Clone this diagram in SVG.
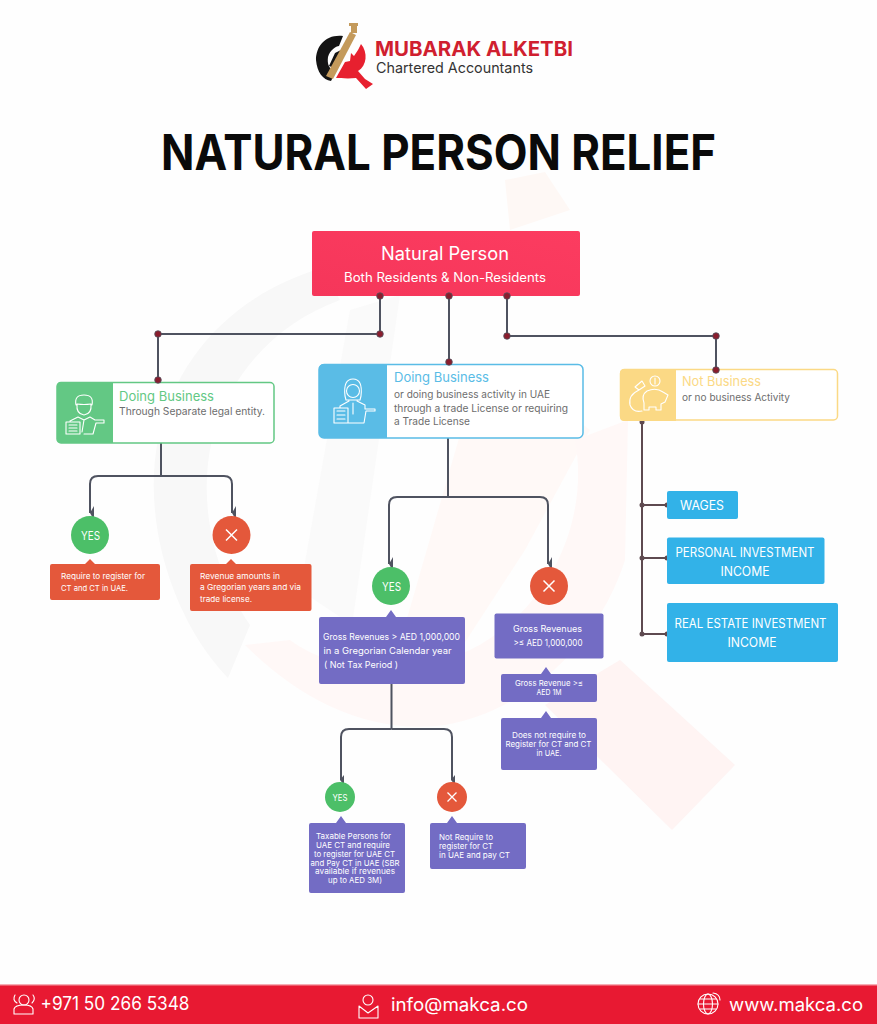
<svg xmlns="http://www.w3.org/2000/svg" width="877" height="1024" viewBox="0 0 877 1024">
<style>
text{font-family:"Inter","Noto Sans","Liberation Sans",sans-serif}
.c{text-anchor:middle}
.ln{fill:none;stroke:#4f5360;stroke-width:2}
.dot{fill:#8a1d2d;stroke:#4f5360;stroke-width:.8}
.gd{fill:#5e4a50}
.ic{fill:none;stroke:#fff;stroke-width:1.100;stroke-linejoin:round;stroke-linecap:round}
.t{fill:#fff;font-size:8px}
.tp{fill:#fff;font-size:9px}
.s{fill:#6d6d6d;font-size:10.500px}
.o{fill:#e4583b}.p{fill:#736cc4}.b{fill:#32b2e8}.g{fill:#4cbf68}
.bt{fill:#fff;font-size:12.500px}
</style>
<defs>
<linearGradient id="rg" x1="0" y1="1" x2="1" y2="0"><stop offset="0" stop-color="#f5365a"/><stop offset="1" stop-color="#fc3c60"/></linearGradient>
<marker id="ah" markerUnits="userSpaceOnUse" markerWidth="16" markerHeight="8" refX="8" refY="7" orient="auto" viewBox="0 0 16 8"><path d="M1 3H15L8 7Z" fill="#4f5360"/></marker>
<marker id="as" markerUnits="userSpaceOnUse" markerWidth="10" markerHeight="6" refX="5" refY="5" orient="auto" viewBox="0 0 10 6"><path d="M0 2H10L5 6Z" fill="#4f5360"/></marker>
</defs>
<rect width="877" height="1024" fill="#fefefe"/>
<g id="watermark">
<path d="M228 678C172 620 142 520 158 440C176 352 240 292 322 268L340 300C280 322 230 370 212 440C198 500 212 570 250 625Z" fill="#f8f8f8"/>
<path d="M300 590L350 310L400 295L352 625Z" fill="#fafafa"/>
<path d="M505 180L545 172L570 210L510 230Z" fill="#fef8f5"/>
<path d="M470 400L505 365L590 430L525 550L460 650L395 660Z" fill="#fff9f7"/>
<path d="M245 645C300 700 370 735 445 725C530 710 600 640 625 560L628 420L575 440C590 520 550 610 470 650C400 680 330 670 290 640Z" fill="#fff8f7"/>
<path d="M620 660L735 765L672 830L545 705Z" fill="#fff4f3"/>
</g>
<g id="logo">
<path d="M343 36C326 34 316 46 316 60C317 72 323 80 331 81L336 71C329 70 327 64 328 57C330 50 336 46 339 46Z" fill="#141414"/>
<path d="M335 53L341 50L334 68L329 66Z" fill="#141414"/>
<path d="M326 76L350 32L356 35L333 79Z" fill="#c49a5b"/>
<path d="M351 26H357V33H351ZM349 23H358V26H349Z" fill="#c49a5b"/>
<path d="M361 44C368 52 367 66 358 71L365 79L373 84L366 89L356 78C348 79 339 78 336 78L345 62L350 61L351 53L354 56L358 50Z" fill="#e7202f"/>
<text x="375" y="56" font-size="20" font-weight="700" fill="#d01f30" textLength="198" lengthAdjust="spacingAndGlyphs">MUBARAK ALKETBI</text>
<text x="376" y="73" font-size="14.500" fill="#333" textLength="157" lengthAdjust="spacingAndGlyphs">Chartered Accountants</text>
</g>
<text id="title" x="161" y="170" font-size="49" font-weight="700" fill="#0a0a0a" textLength="555" lengthAdjust="spacingAndGlyphs">NATURAL PERSON RELIEF</text>
<g id="connectors">
<path class="ln" d="M380 296V334H158V381M449 296V362M507 296V336H716V370"/>
<path class="ln" d="M161 443V476M161 476H98Q90 476 90 484V513" marker-end="url(#ah)"/>
<path class="ln" d="M161 476H224Q232 476 232 484V513" marker-end="url(#ah)"/>
<path class="ln" d="M448 438V497M448 497H397Q389 497 389 505V564" marker-end="url(#ah)"/>
<path class="ln" d="M448 497H540Q548 497 548 505V564" marker-end="url(#ah)"/>
<path class="ln" d="M391.500 684V729M391.500 729H349Q341 729 341 737V780" marker-end="url(#as)"/>
<path class="ln" d="M391.500 729H444Q452 729 452 737V780" marker-end="url(#as)"/>
<path d="M642 422V635M642 505H667M642 558H667M642 634H667" fill="none" stroke="#5e4a50" stroke-width="2"/>
<g class="gd"><circle cx="642" cy="422" r="2.500"/><circle cx="642" cy="505" r="2.500"/><circle cx="667" cy="505" r="2.500"/><circle cx="642" cy="558" r="2.500"/><circle cx="667" cy="558" r="2.500"/><circle cx="642" cy="634" r="2.500"/><circle cx="667" cy="634" r="2.500"/></g>
</g>
<g id="node-root">
<rect x="312" y="231" width="268" height="65" rx="2" fill="url(#rg)"/>
<text class="c" x="445" y="260" font-size="18" fill="#fff" textLength="128" lengthAdjust="spacingAndGlyphs">Natural Person</text>
<text class="c" x="445" y="282" font-size="12.500" fill="#fff" textLength="202" lengthAdjust="spacingAndGlyphs">Both Residents &amp; Non-Residents</text>
</g>
<g id="node-separate">
<rect x="57" y="382.500" width="217" height="60.500" rx="4" fill="#fff" stroke="#63c884" stroke-width="1.500"/>
<path d="M61 382H113V443H61Q57 443 57 439V386Q57 382 61 382Z" fill="#63c884"/>
<g class="ic"><path d="M76 405Q74 395 84 395Q94 395 92 405M77 404Q76 414 84 415Q92 414 91 404Q84 405 77 404M70 421L78 417L84 420L90 417L95 420H104V423H96L93 434H84M84 420L82 432M66 422H80V434H66ZM69 425H77M69 428H77M69 431H77"/></g>
<text x="119" y="401" font-size="13" fill="#63c884" textLength="95" lengthAdjust="spacingAndGlyphs">Doing Business</text>
<text class="s" x="119" y="415" textLength="146" lengthAdjust="spacingAndGlyphs">Through Separate legal entity.</text>
</g>
<g id="node-trade">
<rect x="319" y="364.500" width="264" height="73.500" rx="5" fill="#fff" stroke="#5abce6" stroke-width="1.500"/>
<path d="M324 364H387V438H324Q319 438 319 433V369Q319 364 324 364Z" fill="#5abce6"/>
<g class="ic"><circle cx="353" cy="391" r="6.500"/><path d="M345 396Q343 379 353 379Q363 379 361 396L360 400H346ZM349 401L340 406V408M357 401L365 405V409H375V411H366L364 423H348M353 403V414M334 408H348V423H334ZM337 411H345M337 415H345M337 419H345"/></g>
<text x="394" y="382" font-size="13" fill="#5abce6" textLength="95" lengthAdjust="spacingAndGlyphs">Doing Business</text>
<text class="s" x="394" y="398" textLength="156" lengthAdjust="spacingAndGlyphs">or doing business activity in UAE</text>
<text class="s" x="394" y="411.500" textLength="174" lengthAdjust="spacingAndGlyphs">through a trade License or requiring</text>
<text class="s" x="394" y="425" textLength="76" lengthAdjust="spacingAndGlyphs">a Trade License</text>
</g>
<g id="node-not">
<rect x="620.500" y="369.500" width="217" height="50.500" rx="4" fill="#fff" stroke="#fbd985" stroke-width="1.500"/>
<path d="M624 369H676V421H624Q620 421 620 417V373Q620 369 624 369Z" fill="#fbd985"/>
<g class="ic"><circle cx="655" cy="381" r="5"/><path d="M655 378V384M642 381L635 387L639 390L645 386ZM639 390Q628 395 630 405Q633 413 642 411M647 391Q656 387 663 392L668 395L665 402L661 404V410H656V407H649V410H644V403Q641 395 647 391Z"/></g>
<text x="682" y="386" font-size="13" fill="#fbd985" textLength="79" lengthAdjust="spacingAndGlyphs">Not Business</text>
<text class="s" x="682" y="400.500" textLength="108" lengthAdjust="spacingAndGlyphs">or no business Activity</text>
</g>
<g id="dots"><circle class="dot" cx="380" cy="296" r="3.300"/><circle class="dot" cx="449" cy="296" r="3.300"/><circle class="dot" cx="507" cy="296" r="3.300"/><circle class="dot" cx="380" cy="334" r="3.300"/><circle class="dot" cx="158" cy="334" r="3.300"/><circle class="dot" cx="158" cy="380" r="3.300"/><circle class="dot" cx="449" cy="362" r="3.300"/><circle class="dot" cx="507" cy="336" r="3.300"/><circle class="dot" cx="716" cy="336" r="3.300"/><circle class="dot" cx="716" cy="370" r="3.300"/></g>
<g id="yes-1"><circle class="g" cx="90" cy="535" r="19"/><text class="c" x="90.500" y="539.500" fill="#fff" font-size="12" textLength="19" lengthAdjust="spacingAndGlyphs">YES</text></g>
<g id="no-1"><circle class="o" cx="231.500" cy="535" r="19"/><path d="M226 529.500L237 540.500M237 529.500L226 540.500" stroke="#fff" stroke-width="1.500"/></g>
<g id="box-1"><path class="o" d="M52 564H85L90 559L95 564H158Q160 564 160 566V598Q160 600 158 600H52Q50 600 50 598V566Q50 564 52 564Z"/>
<text class="t" x="61" y="579" textLength="84" lengthAdjust="spacingAndGlyphs">Require to register for</text><text class="t" x="61" y="590.500" textLength="67" lengthAdjust="spacingAndGlyphs">CT and CT in UAE.</text></g>
<g id="box-2"><path class="o" d="M192 564H226L231 559L236 564H309.500Q311.500 564 311.500 566V609Q311.500 611 309.500 611H192Q190 611 190 609V566Q190 564 192 564Z"/>
<text class="t" x="200" y="578.500" textLength="80" lengthAdjust="spacingAndGlyphs">Revenue amounts in</text><text class="t" x="200" y="590" textLength="101" lengthAdjust="spacingAndGlyphs">a Gregorian years and via</text><text class="t" x="200" y="602" textLength="52" lengthAdjust="spacingAndGlyphs">trade license.</text></g>
<g id="yes-2"><circle class="g" cx="391" cy="586" r="19"/><text class="c" x="391.500" y="590.500" fill="#fff" font-size="12" textLength="19" lengthAdjust="spacingAndGlyphs">YES</text></g>
<g id="no-2"><circle class="o" cx="549" cy="586" r="19"/><path d="M543.500 580.500L554.500 591.500M554.500 580.500L543.500 591.500" stroke="#fff" stroke-width="1.500"/></g>
<g id="box-3"><path class="p" d="M321 617H386L391 610L396 617H463Q465 617 465 619V682Q465 684 463 684H321Q319 684 319 682V619Q319 617 321 617Z"/>
<text class="tp" x="323" y="640" textLength="137" lengthAdjust="spacingAndGlyphs">Gross Revenues &gt; AED 1,000,000</text><text class="tp" x="323.500" y="654" textLength="128" lengthAdjust="spacingAndGlyphs">in a Gregorian Calendar year</text><text class="tp" x="324" y="667.500" textLength="74" lengthAdjust="spacingAndGlyphs">( Not Tax Period )</text></g>
<g id="box-4"><rect class="p" x="494.500" y="613.500" width="109" height="45" rx="2"/>
<text class="tp c" x="547.500" y="632" textLength="69" lengthAdjust="spacingAndGlyphs">Gross Revenues</text><text class="tp c" x="548" y="646" textLength="69" lengthAdjust="spacingAndGlyphs">&gt;≤ AED 1,000,000</text></g>
<g id="box-5"><path class="p" d="M503 674H541L546 667L551 674H595Q597 674 597 676V700Q597 702 595 702H503Q501 702 501 700V676Q501 674 503 674Z"/>
<text class="t c" x="549" y="686" textLength="68" lengthAdjust="spacingAndGlyphs">Gross Revenue &gt;≤</text><text class="t c" x="549" y="695" textLength="25" lengthAdjust="spacingAndGlyphs">AED 1M</text></g>
<g id="box-6"><path class="p" d="M503 718H541L546 711L551 718H595Q597 718 597 720V768Q597 770 595 770H503Q501 770 501 768V720Q501 718 503 718Z"/>
<text class="t c" x="549" y="738" textLength="74" lengthAdjust="spacingAndGlyphs">Does not require to</text><text class="t c" x="548.500" y="747" textLength="86" lengthAdjust="spacingAndGlyphs">Register for CT and CT</text><text class="t c" x="549" y="755.500" textLength="25" lengthAdjust="spacingAndGlyphs">in UAE.</text></g>
<g id="yes-3"><circle class="g" cx="340" cy="797" r="15"/><text class="c" x="340" y="800.500" fill="#fff" font-size="9.500" textLength="15" lengthAdjust="spacingAndGlyphs">YES</text></g>
<g id="no-3"><circle class="o" cx="452" cy="797" r="15"/><path d="M447.500 792.500L456.500 801.500M456.500 792.500L447.500 801.500" stroke="#fff" stroke-width="1.300"/></g>
<g id="box-7"><path class="p" d="M311 823H336L341 816L346 823H403Q405 823 405 825V891Q405 893 403 893H311Q309 893 309 891V825Q309 823 311 823Z"/>
<text class="t c" x="353.500" y="839" textLength="75" lengthAdjust="spacingAndGlyphs">Taxable Persons for</text><text class="t c" x="353" y="848" textLength="74" lengthAdjust="spacingAndGlyphs">UAE CT and require</text><text class="t c" x="354.500" y="856.500" textLength="81" lengthAdjust="spacingAndGlyphs">to register for UAE CT</text><text class="t c" x="355" y="865.500" textLength="89" lengthAdjust="spacingAndGlyphs">and Pay CT in UAE (SBR</text><text class="t c" x="355" y="874" textLength="80" lengthAdjust="spacingAndGlyphs">available if revenues</text><text class="t c" x="355" y="883" textLength="54" lengthAdjust="spacingAndGlyphs">up to AED 3M)</text></g>
<g id="box-8"><path class="p" d="M432 823H447L452 816L457 823H524Q526 823 526 825V867Q526 869 524 869H432Q430 869 430 867V825Q430 823 432 823Z"/>
<text class="t" x="439" y="840" textLength="54" lengthAdjust="spacingAndGlyphs">Not Require to</text><text class="t" x="439" y="849" textLength="54" lengthAdjust="spacingAndGlyphs">register for CT</text><text class="t" x="439" y="857.500" textLength="71" lengthAdjust="spacingAndGlyphs">in UAE and pay CT</text></g>
<g id="wages"><rect class="b" x="667" y="491" width="71" height="28" rx="2"/><text class="bt" x="680" y="509.500" textLength="44" lengthAdjust="spacingAndGlyphs">WAGES</text></g>
<g id="personal"><rect class="b" x="667" y="537.500" width="157.500" height="46.500" rx="2"/><text class="bt c" x="745" y="556.500" textLength="139" lengthAdjust="spacingAndGlyphs">PERSONAL INVESTMENT</text><text class="bt c" x="745" y="576" textLength="49" lengthAdjust="spacingAndGlyphs">INCOME</text></g>
<g id="real"><rect class="b" x="667" y="603" width="171" height="59" rx="2"/><text class="bt c" x="750.500" y="627.500" textLength="152" lengthAdjust="spacingAndGlyphs">REAL ESTATE INVESTMENT</text><text class="bt c" x="752" y="647" textLength="49" lengthAdjust="spacingAndGlyphs">INCOME</text></g>
<g id="footer">
<rect y="985" width="877" height="39" fill="#e81932"/>
<rect y="984.500" width="877" height="1.500" fill="#ee5a6a"/>
<g class="ic" stroke-width="1"><circle cx="24" cy="1000" r="5"/><path d="M14 1014V1009Q15 1005 24 1005Q32 1005 33 1009V1014ZM17 1003Q12 1000 15 995M32 1003Q36 999 33 995"/></g>
<text x="40.500" y="1010" fill="#fff" font-size="18" textLength="149" lengthAdjust="spacingAndGlyphs">+971 50 266 5348</text>
<g class="ic" stroke-width="1"><circle cx="368" cy="1000" r="5"/><path d="M359 1006V1018H378V1006M359 1006L368 1013L378 1006"/></g>
<text x="391" y="1010.500" fill="#fff" font-size="18" textLength="137" lengthAdjust="spacingAndGlyphs">info@makca.co</text>
<g class="ic" stroke-width="1"><circle cx="708" cy="1004" r="10"/><ellipse cx="708" cy="1004" rx="4.500" ry="10"/><path d="M698 1004H718M700 999H716M700 1009H716M713 993Q720 994 720 1000"/></g>
<text x="729" y="1010.500" fill="#fff" font-size="18" textLength="134" lengthAdjust="spacingAndGlyphs">www.makca.co</text>
</g>
</svg>
